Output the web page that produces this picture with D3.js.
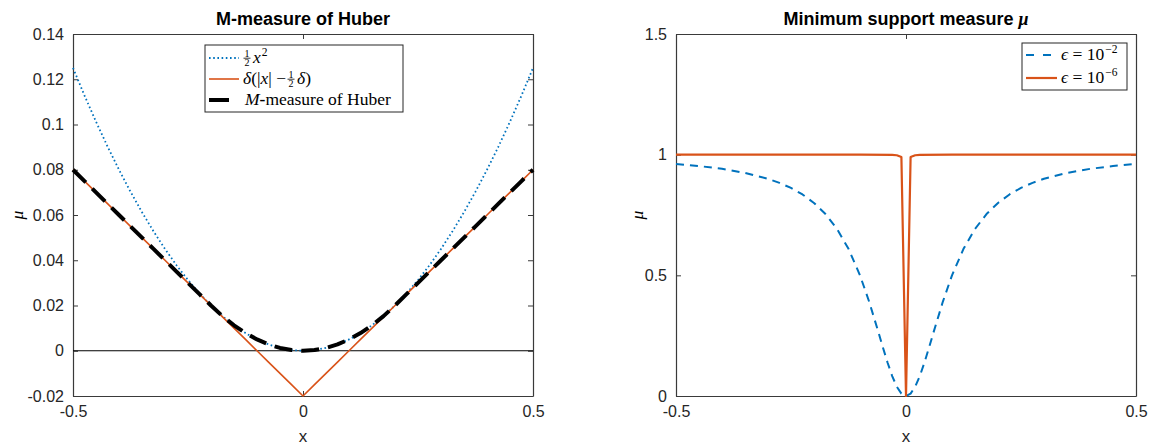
<!DOCTYPE html>
<html>
<head>
<meta charset="utf-8">
<script src="https://cdn.jsdelivr.net/npm/d3@7/dist/d3.min.js"></script>
<style>
  html, body { margin: 0; padding: 0; background: #fff; }
  svg { display: block; }
  .tick-label { font-family: "Liberation Sans", Arial, sans-serif; font-size: 16px; fill: #262626; }
  .title { font-family: "Liberation Sans", Arial, sans-serif; font-size: 18px; font-weight: bold; fill: #000; }
  .axis-label { font-family: "Liberation Sans", Arial, sans-serif; font-size: 17px; fill: #262626; }
  .math { font-family: "Liberation Serif", "Times New Roman", serif; font-size: 17.5px; fill: #000; }
</style>
</head>
<body>
<svg id="chart" width="1153" height="447"></svg>
<script>
// ---- Left panel: Huber M-measure (delta = 0.2) ----
const huberX = [-0.5, -0.475, -0.45, -0.425, -0.4, -0.375, -0.35, -0.325, -0.3, -0.275, -0.25, -0.225,
                -0.2, -0.175, -0.15, -0.125, -0.1, -0.075, -0.05, -0.025, 0,
                0.025, 0.05, 0.075, 0.1, 0.125, 0.15, 0.175, 0.2,
                0.225, 0.25, 0.275, 0.3, 0.325, 0.35, 0.375, 0.4, 0.425, 0.45, 0.475, 0.5];
const halfSquare = [0.125, 0.1128, 0.10125, 0.0903, 0.08, 0.0703, 0.06125, 0.0528, 0.045, 0.0378, 0.03125, 0.0253,
                    0.02, 0.0153, 0.01125, 0.0078, 0.005, 0.0028, 0.00125, 0.0003, 0,
                    0.0003, 0.00125, 0.0028, 0.005, 0.0078, 0.01125, 0.0153, 0.02,
                    0.0253, 0.03125, 0.0378, 0.045, 0.0528, 0.06125, 0.0703, 0.08, 0.0903, 0.10125, 0.1128, 0.125];
const linearPart = [0.08, 0.075, 0.07, 0.065, 0.06, 0.055, 0.05, 0.045, 0.04, 0.035, 0.03, 0.025,
                    0.02, 0.015, 0.01, 0.005, 0, -0.005, -0.01, -0.015, -0.02,
                    -0.015, -0.01, -0.005, 0, 0.005, 0.01, 0.015, 0.02,
                    0.025, 0.03, 0.035, 0.04, 0.045, 0.05, 0.055, 0.06, 0.065, 0.07, 0.075, 0.08];
const huberM = [0.08, 0.075, 0.07, 0.065, 0.06, 0.055, 0.05, 0.045, 0.04, 0.035, 0.03, 0.025,
                0.02, 0.0153, 0.01125, 0.0078, 0.005, 0.0028, 0.00125, 0.0003, 0,
                0.0003, 0.00125, 0.0028, 0.005, 0.0078, 0.01125, 0.0153, 0.02,
                0.025, 0.03, 0.035, 0.04, 0.045, 0.05, 0.055, 0.06, 0.065, 0.07, 0.075, 0.08];
const leftYTicks = [-0.02, 0, 0.02, 0.04, 0.06, 0.08, 0.1, 0.12, 0.14];
const leftYTickLabels = ["-0.02", "0", "0.02", "0.04", "0.06", "0.08", "0.1", "0.12", "0.14"];

// ---- Right panel: minimum support measure ----
const msX1 = [-0.5, -0.45, -0.4, -0.35, -0.3, -0.275, -0.25, -0.225, -0.2, -0.175, -0.15, -0.125, -0.1,
              -0.08, -0.06, -0.05, -0.04, -0.03, -0.02, -0.01, 0,
              0.01, 0.02, 0.03, 0.04, 0.05, 0.06, 0.08,
              0.1, 0.125, 0.15, 0.175, 0.2, 0.225, 0.25, 0.275, 0.3, 0.35, 0.4, 0.45, 0.5];
const msEps2 = [0.9615, 0.9529, 0.9412, 0.9245, 0.9, 0.8832, 0.8621, 0.8351, 0.8, 0.7538, 0.6923, 0.6098, 0.5,
                0.3902, 0.2647, 0.2, 0.1379, 0.0826, 0.0385, 0.0099, 0,
                0.0099, 0.0385, 0.0826, 0.1379, 0.2, 0.2647, 0.3902,
                0.5, 0.6098, 0.6923, 0.7538, 0.8, 0.8351, 0.8621, 0.8832, 0.9, 0.9245, 0.9412, 0.9529, 0.9615];
const msX2 = [-0.5, -0.1, -0.03, -0.02, -0.01, 0, 0.01, 0.02, 0.03, 0.1, 0.5];
const msEps6 = [1.0, 0.9999, 0.9989, 0.9975, 0.99, 0, 0.99, 0.9975, 0.9989, 0.9999, 1.0];
const rightYTicks = [0, 0.5, 1, 1.5];
const rightYTickLabels = ["0", "0.5", "1", "1.5"];

const xTicks = [-0.5, 0, 0.5];
const xTickLabels = ["-0.5", "0", "0.5"];

const BLUE = "#0072BD", ORANGE = "#D95319", AXIS = "#3a3a3a";

const svg = d3.select("#chart");
const plotTop = 34, plotBottom = 396;

function panel(x0, x1, yDomain, yTicks, yTickLabels) {
  const x = d3.scaleLinear().domain([-0.5, 0.5]).range([x0, x1]);
  const y = d3.scaleLinear().domain(yDomain).range([plotBottom, plotTop]);
  const g = svg.append("g");
  const tickLen = 5;
  // axes with inward ticks on all four sides
  const axB = d3.axisBottom(x).tickValues(xTicks).tickFormat((d, i) => xTickLabels[i]).tickSizeInner(-tickLen).tickSizeOuter(0).tickPadding(10);
  const axT = d3.axisTop(x).tickValues(xTicks).tickFormat("").tickSizeInner(-tickLen).tickSizeOuter(0);
  const axL = d3.axisLeft(y).tickValues(yTicks).tickFormat((d, i) => yTickLabels[i]).tickSizeInner(-tickLen).tickSizeOuter(0).tickPadding(9);
  const axR = d3.axisRight(y).tickValues(yTicks).tickFormat("").tickSizeInner(-tickLen).tickSizeOuter(0);
  const styleAxis = sel => {
    sel.select(".domain").attr("stroke", AXIS).attr("stroke-width", 1.2);
    sel.selectAll(".tick line").attr("stroke", AXIS).attr("stroke-width", 1);
    sel.selectAll(".tick text").attr("class", "tick-label").attr("fill", "#262626");
  };
  g.append("g").attr("transform", `translate(0,${plotBottom})`).call(axB).call(styleAxis);
  g.append("g").attr("transform", `translate(0,${plotTop})`).call(axT).call(styleAxis);
  g.append("g").attr("transform", `translate(${x0},0)`).call(axL).call(styleAxis);
  g.append("g").attr("transform", `translate(${x1},0)`).call(axR).call(styleAxis);
  g.selectAll(".tick text").style("font-family", "'Liberation Sans', Arial, sans-serif").style("font-size", "16px");
  return { x, y, g };
}

function drawLine(p, xs, ys, color, width, dash) {
  const pts = xs.map((v, i) => [v, ys[i]]);
  const line = d3.line().x(d => p.x(d[0])).y(d => p.y(d[1]));
  p.g.append("path").datum(pts)
    .attr("d", line)
    .attr("fill", "none")
    .attr("stroke", color)
    .attr("stroke-width", width)
    .attr("stroke-linejoin", "round")
    .attr("stroke-dasharray", dash || null);
}

// ===== Left panel =====
const L = panel(73, 533, [-0.02, 0.14], leftYTicks, leftYTickLabels);
L.g.append("line")
  .attr("x1", L.x(-0.5)).attr("x2", L.x(0.5))
  .attr("y1", L.y(0)).attr("y2", L.y(0))
  .attr("stroke", "#000").attr("stroke-width", 1);
drawLine(L, huberX, halfSquare, BLUE, 1.8, "1.6,2.6");
drawLine(L, huberX, linearPart, ORANGE, 1.6);
drawLine(L, huberX, huberM, "#000", 4, "18,9");

svg.append("text").attr("class", "title").attr("x", L.x(0)).attr("y", 25).attr("text-anchor", "middle").text("M-measure of Huber");
svg.append("text").attr("class", "axis-label").attr("x", L.x(0)).attr("y", 442).attr("text-anchor", "middle").text("x");
svg.append("text").attr("class", "math").attr("font-style", "italic")
  .attr("transform", `translate(23,${(plotTop + plotBottom) / 2}) rotate(-90)`).attr("text-anchor", "middle").text("μ");

// left legend
const lg = svg.append("g");
lg.append("rect").attr("x", 205).attr("y", 45).attr("width", 198).attr("height", 67)
  .attr("fill", "#fff").attr("stroke", "#262626").attr("stroke-width", 1);
const legRows = [58, 79, 100];
const sx0 = 209, sx1 = 239, tx = 243;
lg.append("line").attr("x1", sx0).attr("x2", sx1).attr("y1", legRows[0]).attr("y2", legRows[0])
  .attr("stroke", BLUE).attr("stroke-width", 1.8).attr("stroke-dasharray", "1.6,2.6");
lg.append("line").attr("x1", sx0).attr("x2", sx1).attr("y1", legRows[1]).attr("y2", legRows[1])
  .attr("stroke", ORANGE).attr("stroke-width", 1.6);
lg.append("line").attr("x1", sx0).attr("x2", sx1).attr("y1", legRows[2]).attr("y2", legRows[2])
  .attr("stroke", "#000").attr("stroke-width", 4).attr("stroke-dasharray", "20,12");

// small stacked fraction 1/2, returns its width
function half(g, x, base) {
  g.append("text").attr("class", "math").attr("x", x + 4).attr("y", base - 6.5).attr("text-anchor", "middle").style("font-size", "10px").text("1");
  g.append("line").attr("x1", x + 0.5).attr("x2", x + 7.5).attr("y1", base - 4.8).attr("y2", base - 4.8).attr("stroke", "#000").attr("stroke-width", 0.8);
  g.append("text").attr("class", "math").attr("x", x + 4).attr("y", base + 3.2).attr("text-anchor", "middle").style("font-size", "10px").text("2");
  return 9;
}
function run(g, x, base, parts) {
  const t = g.append("text").attr("class", "math").attr("x", x).attr("y", base);
  parts.forEach(p => {
    const s = t.append("tspan").text(p.t);
    if (p.i) s.attr("font-style", "italic");
    if (p.b) s.attr("font-weight", "bold");
  });
  return t.node().getComputedTextLength();
}
{
  const b0 = legRows[0] + 5;
  let x = tx;
  x += half(lg, x, b0) + 1;
  x += run(lg, x, b0, [{ t: "x", i: true }]) + 1;
  lg.append("text").attr("class", "math").attr("x", x).attr("y", b0 - 7).style("font-size", "11.5px").text("2");

  const b1 = legRows[1] + 5;
  x = tx;
  x += run(lg, x, b1, [{ t: "δ", i: true }, { t: "(|" }, { t: "x", i: true }, { t: "| − " }]) + 1;
  x += half(lg, x, b1) + 1;
  run(lg, x, b1, [{ t: "δ", i: true }, { t: ")" }]);

  const b2 = legRows[2] + 5;
  run(lg, tx + 2, b2, [{ t: "M", i: true }, { t: "-", b: true }, { t: "measure of Huber" }]);
}

// ===== Right panel =====
const R = panel(676, 1136, [0, 1.5], rightYTicks, rightYTickLabels);
drawLine(R, msX1, msEps2, BLUE, 2, "8,6");
drawLine(R, msX2, msEps6, ORANGE, 2.2);

{
  const t = svg.append("text").attr("class", "title").attr("x", R.x(0)).attr("y", 25).attr("text-anchor", "middle");
  t.append("tspan").text("Minimum support measure ");
  t.append("tspan").attr("font-family", "'Liberation Serif', serif").attr("font-style", "italic").text("μ");
}
svg.append("text").attr("class", "axis-label").attr("x", R.x(0)).attr("y", 442).attr("text-anchor", "middle").text("x");
svg.append("text").attr("class", "math").attr("font-style", "italic")
  .attr("transform", `translate(643,${(plotTop + plotBottom) / 2}) rotate(-90)`).attr("text-anchor", "middle").text("μ");

// right legend
const rg = svg.append("g");
rg.append("rect").attr("x", 1022).attr("y", 43).attr("width", 105).attr("height", 47)
  .attr("fill", "#fff").attr("stroke", "#262626").attr("stroke-width", 1);
const rRows = [55, 78];
rg.append("line").attr("x1", 1026).attr("x2", 1057).attr("y1", rRows[0]).attr("y2", rRows[0])
  .attr("stroke", BLUE).attr("stroke-width", 2).attr("stroke-dasharray", "8,9");
rg.append("line").attr("x1", 1026).attr("x2", 1057).attr("y1", rRows[1]).attr("y2", rRows[1])
  .attr("stroke", ORANGE).attr("stroke-width", 2.2);
[["−2", 0], ["−6", 1]].forEach(([exp, i]) => {
  const base = rRows[i] + 5;
  let x = 1061;
  x += run(rg, x, base, [{ t: "ϵ", i: true }, { t: " = 10" }]) + 1;
  rg.append("text").attr("class", "math").attr("x", x).attr("y", base - 7).style("font-size", "11.5px").text(exp);
});
</script>
</body>
</html>
